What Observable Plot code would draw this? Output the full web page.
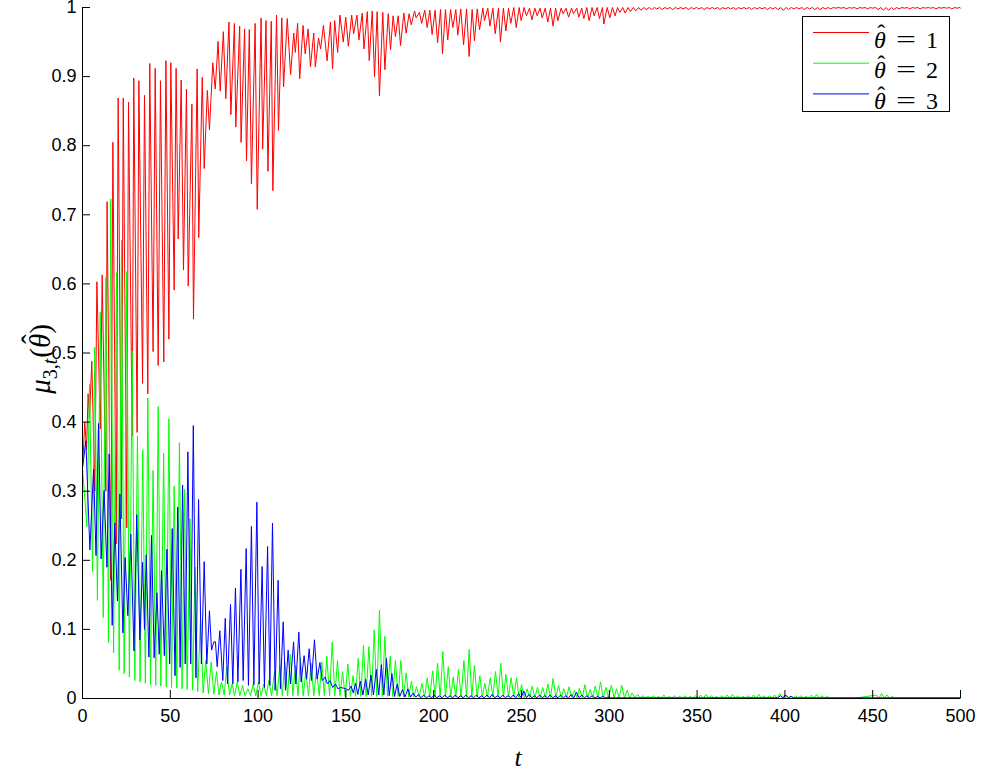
<!DOCTYPE html>
<html><head><meta charset="utf-8">
<script src="https://cdn.jsdelivr.net/npm/d3@7"></script>
<script src="https://cdn.jsdelivr.net/npm/@observablehq/plot@0.6"></script>
<style>html,body{margin:0;padding:0;background:#fff;}</style>
</head><body><div id="chart"></div>
<script>
const xTicks = [0,50,100,150,200,250,300,350,400,450,500];
const yTicks = [0,0.1,0.2,0.3,0.4,0.5,0.6,0.7,0.8,0.9,1];
const yTickLabels = ["0","0.1","0.2","0.3","0.4","0.5","0.6","0.7","0.8","0.9","1"];
const seriesLabels = ["1","2","3"];
const seriesColors = ["#ff0000","#00ff00","#0000ff"];

// [t, mu] local extremes
const redPoints = [[0,0.333],[1.3,0.40],[2.3,0.36],[3.2,0.441],[4.0,0.406],[5.3,0.488],[7.0,0.30],[8.2,0.603],[10.1,0.39],[11.2,0.613],
[13.3,0.30],[14.0,0.719],[16.1,0.171],[17.3,0.805],[19.2,0.224],[20.3,0.869],[22.2,0.26],[23.2,0.869],[25.2,0.247],[26.2,0.863],
[28.3,0.38],[29.2,0.898],[31.1,0.385],[32.1,0.894],[34.2,0.456],[35.3,0.873],[37.2,0.441],[38.3,0.919],[40.2,0.502],[41.4,0.912],
[43.1,0.482],[44.4,0.894],[46.3,0.487],[47.5,0.923],[49.2,0.52],[50.3,0.92],[52.2,0.591],[53.3,0.912],[54.5,0.665],[56.2,0.895],
[57.5,0.62],[59.2,0.882],[60.2,0.597],[62.3,0.86],[63.2,0.549],[65.3,0.911],[66.2,0.667],[68.2,0.899],[69.3,0.767],[71.1,0.88],
[72.3,0.823],[74.2,0.92],[75.6,0.882],[77.2,0.951],[78.4,0.879],[80.2,0.965],[81.6,0.868],[83.4,0.979],[84.5,0.845],[86.5,0.977],
[87.3,0.827],[89.5,0.973],[90.3,0.805],[92.3,0.969],[93.4,0.778],[95.0,0.968],[96.2,0.745],[98.3,0.977],[99.5,0.708],[101.7,0.985],
[102.6,0.795],[104.5,0.981],[105.6,0.763],[107.5,0.98],[108.4,0.735],[110.5,0.989],[111.6,0.822],[113.5,0.985],[114.5,0.885],[116.6,0.984],
[118.5,0.903],[120.3,0.963],[121.2,0.935],[122.5,0.977],[123.7,0.897],[125.6,0.974],[126.8,0.933],[128.5,0.969],[129.8,0.914],[131.7,0.963],
[132.6,0.914],[134.4,0.956],[135.6,0.94],[137.2,0.974],[139.3,0.923],[141.2,0.979],[142.4,0.911],[143.6,0.981],[145.3,0.935],[146.6,0.989],
[148.5,0.95],[149.9,0.986],[151.4,0.944],[153.3,0.989],[154.4,0.962],[156.3,0.989],[157.4,0.953],[159.3,0.992],[160.3,0.94],[162.2,0.994],
[163.3,0.923],[165.0,0.995],[166.3,0.9],[167.8,0.994],[169.1,0.872],[171.0,0.993],[172.2,0.91],[174.1,0.991],[175.4,0.939],[176.9,0.988],
[178.2,0.958],[179.8,0.988],[181.1,0.945],[183.0,0.992],[184.3,0.963],[186.0,0.991],[187.2,0.975],[189.1,0.995],[190.0,0.985],[191.9,0.993],
[193.1,0.977],[194.9,0.996],[196.3,0.971],[197.8,0.996],[199.1,0.961],[200.8,0.996],[202.2,0.949],[203.9,0.997],[205.0,0.933],[206.7,0.997],
[208.0,0.953],[209.6,0.997],[210.9,0.971],[212.6,0.997],[213.7,0.96],[215.4,0.998],[217.0,0.946],[218.7,0.998],[220.2,0.929],[221.9,0.997],
[223.2,0.952],[224.8,0.998],[226.1,0.968],[228.0,0.999],[228.9,0.981],[230.8,0.999],[232.0,0.973],[233.7,0.999],[235.0,0.962],[236.9,0.999],
[238.0,0.95],[239.7,0.999],[241.1,0.966],[242.6,0.999],[243.9,0.977],[245.6,1.0],[247.0,0.971],[248.7,1.0],[249.8,0.981],[251.5,1.0],
[252.8,0.988],[254.6,0.999],[255.9,0.982],[257.6,0.999],[258.9,0.988],[260.6,0.999],[261.8,0.985],[263.5,0.999],[265.0,0.979],[266.5,0.999],
[268.0,0.973],[269.4,0.999],[270.7,0.981],[272.6,0.999],[273.7,0.991],[275.4,0.999],[276.8,0.986],[278.5,0.999],[279.6,0.991],[281.5,0.999],
[282.6,0.986],[284.3,0.999],[285.5,0.984],[287.2,1.0],[288.5,0.981],[290.2,1.0],[291.4,0.988],[293.1,1.0],[294.4,0.984],[296.1,1.0],
[296.9,0.976],[298.8,1.0],[300.3,0.985],[301.8,1.0],[303.3,0.988],[304.7,1.0],[306.0,0.993],
[307.7,1.0],[309.0,0.992],[310.7,1.0],[312.0,0.994],[313.7,1.0],[315.0,0.995],[316.7,1.0],[318.0,0.996],[319.7,1.0],[321.0,0.997],
[322.7,1.0],[324.0,0.997],[325.7,1.0],[327.0,0.998],[328.7,1.0],[330.0,0.997],[331.7,1.0],[333.0,0.998],[334.7,1.0],[336.0,0.997],
[337.7,1.0],[339.0,0.998],[340.7,1.0],[342.0,0.998],[343.7,1.0],[345.0,0.997],[346.7,1.0],[348.0,0.998],[349.7,1.0],[351.0,0.998],
[352.7,1.0],[354.0,0.997],[355.7,1.0],[357.0,0.998],[358.7,1.0],[360.0,0.998],[361.7,1.0],[363.0,0.997],[364.7,1.0],[366.0,0.998],
[367.7,1.0],[369.0,0.998],[370.7,1.0],[372.0,0.997],[373.7,1.0],[375.0,0.998],[376.7,1.0],[378.0,0.998],[379.7,1.0],[381.0,0.997],
[382.7,1.0],[384.0,0.998],[385.7,1.0],[387.0,0.998],[388.7,1.0],[390.0,0.997],[391.7,1.0],[393.0,0.998],[394.7,1.0],[396.0,0.997],
[397.7,1.0],[399.0,0.996],[400.7,1.0],[402.0,0.997],[403.7,1.0],[405.0,0.998],[406.7,1.0],[408.0,0.998],[409.7,1.0],[411.0,0.997],
[412.7,1.0],[414.0,0.998],[415.7,1.0],[417.0,0.997],[418.7,1.0],[420.0,0.997],[421.7,1.0],[423.0,0.998],[424.7,1.0],[426.0,0.998],
[427.7,1.0],[429.0,0.999],[430.7,1.0],[432.0,0.999],[433.7,1.0],[435.0,0.998],[436.7,1.0],[438.0,0.999],[439.7,1.0],[441.0,0.998],
[442.7,1.0],[444.0,0.999],[445.7,1.0],[447.0,0.998],[448.7,1.0],[450.0,0.999],[451.7,1.0],[453.0,0.997],[454.7,1.0],[456.0,0.996],
[457.7,1.0],[459.0,0.996],[460.7,1.0],[462.0,0.997],[463.7,1.0],[465.0,0.998],[466.7,1.0],[468.0,0.999],[469.7,1.0],[471.0,0.998],
[472.7,1.0],[474.0,0.999],[475.7,1.0],[477.0,0.998],[478.7,1.0],[480.0,0.999],[481.7,1.0],[483.0,0.999],[484.7,1.0],[486.0,0.998],
[487.7,1.0],[489.0,0.999],[490.7,1.0],[492.0,0.999],[493.7,1.0],[495.0,0.998],[496.7,1.0],[498.0,0.999],[499.7,1.0],[500,0.999]];

const greenPoints = [[0,0.333],[1.0,0.30],[2.5,0.249],[4.0,0.455],[5.7,0.183],[7.0,0.508],[8.5,0.142],[10.1,0.559],[11.8,0.117],[13.3,0.609],
[14.8,0.081],[16.1,0.723],[17.7,0.066],[19.4,0.616],[20.9,0.041],[22.2,0.663],[23.7,0.036],[25.2,0.618],[26.7,0.031],[28.3,0.503],
[29.8,0.026],[31.3,0.38],[32.8,0.024],[34.3,0.36],[35.8,0.022],[37.2,0.435],[38.7,0.02],[40.2,0.33],[41.7,0.019],[43.1,0.4225],
[44.6,0.018],[46.2,0.355],[47.7,0.017],[49.2,0.405],[50.7,0.016],[52.2,0.307],[53.7,0.015],[55.2,0.37],[56.7,0.014],[58.1,0.303],
[59.6,0.013],[61.2,0.26],[62.7,0.012],[64.1,0.19],[65.6,0.01],[67.2,0.115],[68.7,0.008],[70.2,0.055],[71.7,0.007],[73.3,0.053],
[74.8,0.006],[76.3,0.039],[77.7,0.005],[79.2,0.024],[80.7,0.005],[82.2,0.046],[83.7,0.005],[85.2,0.021],[86.6,0.004],[88.1,0.024],
[89.6,0.004],[91.1,0.019],[92.6,0.004],[94.2,0.014],[95.7,0.004],[97.2,0.021],[98.7,0.004],[100.2,0.024],[101.7,0.004],[103.3,0.021],
[104.7,0.004],[106.1,0.026],[107.7,0.004],[109.3,0.039],[110.8,0.004],[112.4,0.048],[113.8,0.004],[115.2,0.053],[116.8,0.004],[118.4,0.064],
[119.8,0.004],[121.3,0.048],[122.7,0.004],[124.1,0.058],[125.7,0.004],[127.2,0.039],[128.7,0.004],[130.2,0.051],[131.7,0.004],[133.3,0.043],
[134.8,0.004],[136.3,0.053],[137.7,0.004],[139.1,0.061],[140.7,0.004],[142.2,0.082],[143.7,0.004],[145.2,0.055],[146.6,0.004],[148.1,0.039],
[149.6,0.003],[151.1,0.05],[152.6,0.003],[154.1,0.033],[155.5,0.003],[157.0,0.058],[158.5,0.003],[160.0,0.077],[161.5,0.003],[163.1,0.075],
[164.6,0.003],[166.1,0.099],[167.6,0.003],[169.1,0.128],[170.7,0.003],[172.2,0.09],[173.7,0.003],[175.2,0.061],[176.7,0.003],[178.2,0.055],
[179.7,0.003],[181.3,0.055],[182.8,0.002],[184.3,0.037],[185.8,0.002],[187.3,0.025],[188.7,0.002],[190.2,0.017],[191.7,0.002],[193.3,0.022],
[194.8,0.002],[196.3,0.03],[197.8,0.002],[199.4,0.04],[200.8,0.002],[202.2,0.051],[203.7,0.002],[205.2,0.068],[206.7,0.002],[208.3,0.046],
[209.7,0.002],[211.1,0.031],[212.6,0.002],[214.1,0.042],[215.6,0.002],[217.2,0.055],[218.7,0.002],[220.2,0.071],[221.7,0.002],[223.2,0.048],
[224.7,0.002],[226.3,0.033],[227.7,0.002],[229.1,0.022],[230.6,0.002],[232.2,0.03],[233.7,0.002],[235.2,0.039],[236.7,0.002],[238.2,0.051],
[239.7,0.002],[241.1,0.035],[242.6,0.002],[244.1,0.03],[245.6,0.002],[247.2,0.03],[248.6,0.001],[250.0,0.02],[251.6,0.001],[253.2,0.014],
[254.6,0.001],[256.1,0.018],[257.6,0.001],[259.1,0.016],[260.6,0.001],[262.1,0.016],[263.6,0.001],[265.0,0.021],[266.5,0.001],[268.0,0.029],
[269.6,0.001],[271.1,0.019],[272.6,0.001],[274.1,0.014],[275.6,0.001],[277.1,0.017],[278.6,0.001],[280.2,0.012],[281.6,0.001],[283.0,0.015],
[284.6,0.001],[286.1,0.02],[287.6,0.001],[289.1,0.013],[290.6,0.001],[292.0,0.018],[293.5,0.001],[295.0,0.024],[296.5,0.001],[298.1,0.016],
[299.6,0.001],[301.2,0.019],[302.7,0.001],[304.1,0.014],[305.6,0.001],[307.1,0.019],[308.6,0.001],[310.2,0.012],[311.6,0.001],[313.0,0.008],
[314.6,0.001],[316.1,0.006],[317.6,0.001],[319.1,0.004],[320.6,0.001],[322.1,0.003],[323.6,0.0005],[325.1,0.004],[326.6,0.0005],[328.1,0.003],
[329.6,0.0005],[331.1,0.005],[332.6,0.0005],[334.1,0.003],[335.6,0.0005],[337.1,0.004],[338.6,0.0005],[340.1,0.003],[341.6,0.0005],[343.1,0.004],
[344.6,0.0005],[346.1,0.003],[347.6,0.0005],[349.1,0.004],[350.6,0.0005],[352.1,0.005],[353.6,0.0005],[355.1,0.006],[356.6,0.0005],[358.1,0.004],
[359.6,0.0005],[361.1,0.003],[362.6,0.0005],[364.1,0.004],[365.6,0.0005],[367.1,0.005],[368.6,0.0005],[370.1,0.006],[371.6,0.0005],[373.1,0.004],
[374.6,0.0005],[376.1,0.003],[377.6,0.0005],[379.1,0.004],[380.6,0.0005],[382.1,0.005],[383.6,0.0005],[385.1,0.006],[386.6,0.0005],[388.1,0.004],
[389.6,0.0005],[391.1,0.004],[392.6,0.0005],[394.1,0.005],[395.6,0.0005],[397.1,0.007],[398.6,0.0005],[400.1,0.005],[401.6,0.0005],[403.1,0.003],
[404.6,0.0005],[406.1,0.004],[407.6,0.0005],[409.1,0.004],[410.6,0.0005],[412.1,0.003],[413.6,0.0005],[415.1,0.005],[416.6,0.0005],[418.1,0.006],
[419.6,0.0005],[421.1,0.004],[422.6,0.0005],[424.1,0.003],[425.6,0.0005],[440,0.0005],[452.1,0.005],[453.6,0.0005],[455.1,0.007],[456.6,0.0005],
[458.1,0.005],[459.6,0.0005],[461.1,0.003],[462.6,0.0005],[500,0.0005]];

const bluePoints = [[0,0.333],[1.9,0.373],[4.2,0.215],[6.3,0.332],[7.7,0.207],[9.1,0.398],[10.6,0.202],[12.3,0.301],[13.9,0.19],[15.2,0.354],
[16.9,0.106],[18.4,0.254],[19.9,0.141],[21.3,0.296],[23.0,0.095],[24.3,0.204],[25.8,0.12],[27.5,0.238],[29.3,0.069],[30.9,0.266],
[32.7,0.085],[34.2,0.197],[35.3,0.1],[36.3,0.208],[37.8,0.06],[39.3,0.236],[40.8,0.059],[42.4,0.153],[43.7,0.064],[45.0,0.185],
[46.6,0.062],[48.1,0.216],[49.6,0.05],[51.1,0.246],[52.7,0.033],[54.2,0.277],[55.6,0.045],[57.0,0.309],[58.5,0.05],[60.0,0.357],
[61.6,0.05],[63.1,0.395],[64.6,0.03],[66.1,0.288],[67.7,0.05],[69.3,0.198],[70.8,0.05],[72.3,0.127],[73.5,0.07],[74.8,0.082],
[75.7,0.082],[76.7,0.046],[78.2,0.098],[79.9,0.026],[81.3,0.116],[82.6,0.021],[84.3,0.136],[85.6,0.021],[87.1,0.16],[88.5,0.024],
[90.2,0.187],[91.5,0.026],[93.2,0.217],[94.5,0.019],[96.2,0.249],[97.6,0.02],[99.3,0.284],[100.6,0.021],[102.3,0.191],[103.6,0.016],
[105.4,0.22],[106.7,0.019],[108.2,0.254],[109.7,0.012],[111.4,0.171],[112.7,0.014],[114.3,0.111],[115.6,0.012],[117.1,0.07],[118.4,0.021],
[120.2,0.082],[121.5,0.021],[123.2,0.096],[124.5,0.024],[126.2,0.062],[127.6,0.028],[129.1,0.072],[130.4,0.026],[132.1,0.085],[133.6,0.028],
[135.2,0.052],[136.5,0.026],[138.2,0.031],[139.5,0.021],[141.0,0.026],[142.5,0.016],[144.0,0.021],[145.5,0.014],[147.0,0.016],[148.5,0.015],
[150.0,0.014],[151.5,0.012],[153.0,0.018],[154.2,0.008],[155.5,0.022],[156.8,0.006],[158.2,0.025],[159.7,0.005],[161.2,0.028],[162.7,0.005],
[164.3,0.034],[165.7,0.005],[167.3,0.042],[168.7,0.005],[170.2,0.049],[171.6,0.005],[173.1,0.058],[174.7,0.004],[176.2,0.036],[177.7,0.003],
[179.2,0.021],[180.7,0.003],[182.2,0.013],[183.7,0.002],[185.3,0.014],[186.8,0.002],[188.3,0.008],[189.8,0.002],[191.3,0.006],[192.8,0.001],
[194.3,0.005],[195.8,0.001],[197.3,0.004],[198.8,0.001],[200.3,0.005],[201.8,0.001],[203.3,0.004],[204.8,0.001],[206.3,0.005],[207.8,0.001],
[209.3,0.004],[210.8,0.001],[212.3,0.005],[213.8,0.001],[215.3,0.004],[216.8,0.001],[218.3,0.005],[219.8,0.001],[221.3,0.004],[222.8,0.001],
[224.3,0.005],[225.8,0.001],[227.3,0.004],[228.8,0.001],[230.3,0.005],[231.8,0.001],[233.3,0.006],[234.8,0.001],[236.3,0.004],[237.8,0.001],
[239.3,0.005],[240.8,0.001],[242.3,0.004],[243.8,0.001],[245.3,0.005],[246.8,0.001],[248.3,0.007],[249.8,0.001],[251.3,0.011],[252.8,0.001],
[254.3,0.006],[255.8,0.001],[257.3,0.004],[258.8,0.001],[260.3,0.005],[261.8,0.001],[263.3,0.004],[264.8,0.001],[266.3,0.005],[267.8,0.001],
[269.3,0.004],[270.8,0.001],[272.3,0.005],[273.8,0.001],[275.3,0.004],[276.8,0.001],[278.3,0.006],[279.8,0.001],[281.3,0.009],[282.8,0.001],
[284.3,0.005],[285.8,0.001],[287.3,0.004],[288.8,0.001],[290.3,0.004],[291.8,0.001],[293.3,0.003],[294.8,0.001],[296.3,0.003],[297.8,0.001],
[299.3,0.002],[300.8,0.001],[330,0.001],[396,0.001],[397.5,0.004],[399,0.001],[400.5,0.005],[402,0.001],[403.5,0.003],[405,0.001],[500,0.001]];

const toRows = pts => pts.map(([t, v]) => ({t, v}));
const series = [toRows(redPoints), toRows(greenPoints), toRows(bluePoints)];

const chart = Plot.plot({
  width: 982,
  height: 773,
  marginLeft: 82,
  marginRight: 22,
  marginTop: 7,
  marginBottom: 75,
  style: {fontFamily: "'Liberation Sans', Arial, sans-serif", fontSize: "18px", color: "#000", background: "#fff"},
  x: {domain: [0, 500]},
  y: {domain: [0, 1]},
  marks: [
    ...series.map((rows, i) => Plot.line(rows, {x: "t", y: "v", stroke: seriesColors[i], strokeWidth: 1})),
    Plot.ruleX([0], {stroke: "#000"}),
    Plot.ruleY([0], {stroke: "#000"}),
    Plot.axisX({ticks: xTicks, tickSize: -8, tickPadding: 19, label: null, tickFormat: d => String(d)}),
    Plot.axisY({ticks: yTicks, tickSize: -8, tickPadding: 14, label: null, tickFormat: (d, i) => yTickLabels[i]})
  ]
});
document.getElementById("chart").append(chart);

const svg = d3.select(chart);
const serif = "'Liberation Serif', 'DejaVu Serif', serif";

// puts a circumflex over the glyph at index idx of a text element
function addHat(parent, textSel, idx, size) {
  const e = textSel.node().getExtentOfChar(idx);
  parent.append("text")
    .attr("x", e.x + e.width / 2 + size * 0.06)
    .attr("y", e.y + e.height * 0.82 - size * 0.28)
    .attr("text-anchor", "middle")
    .attr("font-family", serif)
    .attr("font-size", size)
    .attr("fill", "#000")
    .text("\u02C6");
}

// y axis label  mu_{3,t}(theta-hat)
const ylg = svg.append("g").attr("transform", "translate(50,359) rotate(-90)");
const yl = ylg.append("text")
  .attr("x", 0).attr("y", 0)
  .attr("text-anchor", "middle")
  .attr("font-family", serif)
  .attr("font-size", 29)
  .attr("fill", "#000");
yl.append("tspan").attr("font-style", "italic").text("μ");
yl.append("tspan").attr("font-size", 20).attr("dy", 7).text("3,");
yl.append("tspan").attr("font-size", 20).attr("font-style", "italic").text("t");
yl.append("tspan").attr("dy", -7).attr("dx", 1).text("(");
yl.append("tspan").attr("font-style", "italic").text("θ");
yl.append("tspan").text(")");
addHat(ylg, yl, 5, 29);

// x axis label
svg.append("text")
  .attr("x", 518).attr("y", 766)
  .attr("text-anchor", "middle")
  .attr("font-family", serif)
  .attr("font-style", "italic")
  .attr("font-size", 26)
  .attr("fill", "#000")
  .text("t");

// legend
const lg = svg.append("g");
lg.append("rect").attr("x", 802.5).attr("y", 16.5).attr("width", 147).attr("height", 95)
  .attr("fill", "#fff").attr("stroke", "#000").attr("stroke-width", 1);
seriesLabels.forEach((lab, i) => {
  const y = 32.5 + i * 30.7;
  const base = y + 15;
  lg.append("line").attr("x1", 813).attr("x2", 869).attr("y1", y).attr("y2", y)
    .attr("stroke", seriesColors[i]).attr("stroke-width", 1);
  const th = lg.append("text").attr("x", 874).attr("y", base).attr("text-anchor", "start")
    .attr("font-family", serif).attr("font-style", "italic").attr("font-size", 24).attr("fill", "#000")
    .text("θ");
  addHat(lg, th, 0, 24);
  lg.append("text").attr("x", 896).attr("y", base - 1).attr("text-anchor", "start")
    .attr("font-family", serif).attr("font-size", 24).attr("fill", "#000")
    .attr("textLength", 20).attr("lengthAdjust", "spacingAndGlyphs")
    .text("=");
  lg.append("text").attr("x", 926).attr("y", base).attr("text-anchor", "start")
    .attr("font-family", serif).attr("font-size", 24).attr("fill", "#000")
    .text(lab);
});
</script></body></html>
